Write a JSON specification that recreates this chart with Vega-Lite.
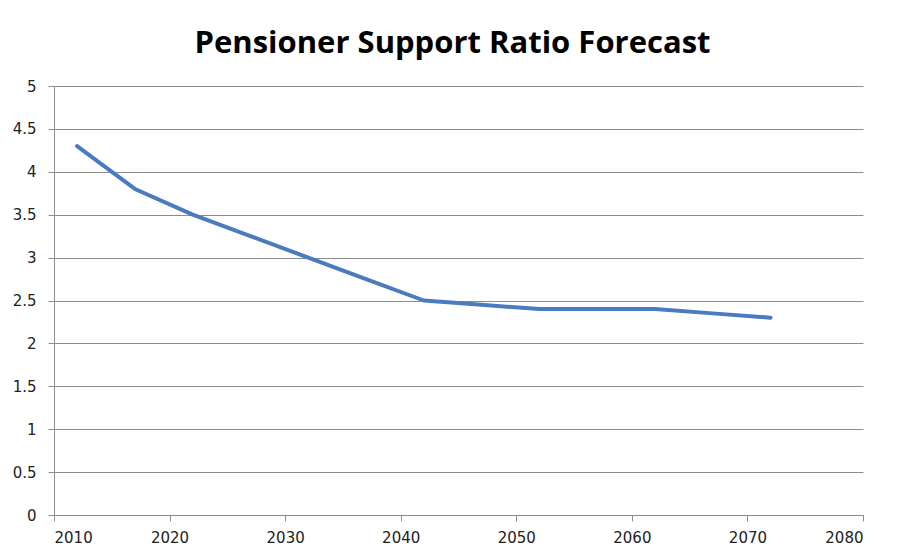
{
  "$schema": "https://vega.github.io/schema/vega-lite/v6.json",
  "autosize": "none",
  "width": 809,
  "height": 429,
  "padding": {"left": 54, "top": 86, "right": 35, "bottom": 45},
  "background": "white",
  "title": {
    "text": "Pensioner Support Ratio Forecast",
    "font": "Open Sans",
    "fontSize": 31,
    "fontWeight": "bold",
    "color": "#000000",
    "anchor": "middle",
    "baseline": "alphabetic",
    "offset": 34,
    "dy": 39,
    "dx": -6
  },
  "data": {
    "values": [
      {"year": 2012, "ratio": 4.3},
      {"year": 2017, "ratio": 3.8},
      {"year": 2022, "ratio": 3.5},
      {"year": 2027, "ratio": 3.25},
      {"year": 2032, "ratio": 3.0},
      {"year": 2037, "ratio": 2.75},
      {"year": 2042, "ratio": 2.5},
      {"year": 2047, "ratio": 2.45},
      {"year": 2052, "ratio": 2.4},
      {"year": 2057, "ratio": 2.4},
      {"year": 2062, "ratio": 2.4},
      {"year": 2067, "ratio": 2.35},
      {"year": 2072, "ratio": 2.3}
    ]
  },
  "mark": {"type": "line", "color": "#4a7bbf", "strokeWidth": 4, "strokeCap": "round", "strokeJoin": "round"},
  "encoding": {
    "x": {
      "field": "year",
      "type": "quantitative",
      "scale": {"domain": [2010, 2080], "nice": false, "zero": false},
      "axis": {
        "title": null,
        "values": [2010, 2020, 2030, 2040, 2050, 2060, 2070, 2080],
        "format": "d",
        "grid": false,
        "domainColor": "#8c8c8c",
        "tickColor": "#8c8c8c",
        "tickSize": 6,
        "labelFont": "DejaVu Sans",
        "labelFontSize": 15,
        "labelColor": "#222222",
        "labelPadding": 9
      }
    },
    "y": {
      "field": "ratio",
      "type": "quantitative",
      "scale": {"domain": [0, 5], "nice": false},
      "axis": {
        "title": null,
        "values": [0, 0.5, 1, 1.5, 2, 2.5, 3, 3.5, 4, 4.5, 5],
        "format": "~g",
        "grid": true,
        "gridColor": "#8c8c8c",
        "gridWidth": 1,
        "domainColor": "#8c8c8c",
        "tickColor": "#8c8c8c",
        "tickSize": 6,
        "labelFont": "DejaVu Sans",
        "labelFontSize": 15,
        "labelColor": "#222222",
        "labelPadding": 12
      }
    }
  },
  "config": {"view": {"stroke": null}}
}
